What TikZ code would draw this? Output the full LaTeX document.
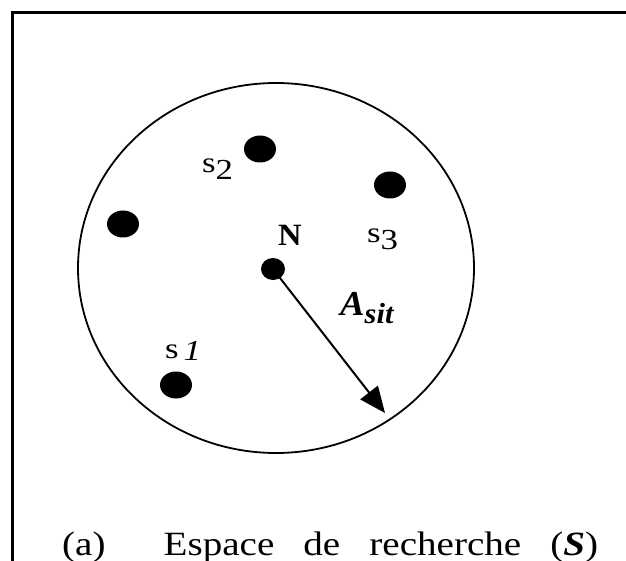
\documentclass[tikz,border=0pt]{standalone}
\usepackage{fontspec}
\setmainfont{Liberation Serif}
\usetikzlibrary{arrows.meta,shapes.geometric}
\newcommand{\widen}[2][1.2]{\scalebox{#1}[1]{#2}}
\begin{document}
\begin{tikzpicture}[x=1pt,y=-1pt,
  frameline/.style={line width=3pt},
  region/.style={line width=1.8pt},
  site/.style={ellipse, fill=black, inner sep=0pt, minimum width=32pt, minimum height=27pt},
  nest/.style={ellipse, fill=black, inner sep=0pt, minimum width=24pt, minimum height=22pt},
  lbl/.style={inner sep=0pt, anchor=base west, font=\fontsize{29}{32}\selectfont},
  radius arrow/.style={line width=2pt, -{Triangle[length=26pt,width=22pt]}}
]
\useasboundingbox (0,0) rectangle (626,561);
\fill[white] (0,0) rectangle (626,561);

% open frame: left and top sides
\draw[frameline] (12.5,561) -- (12.5,12.5) -- (626,12.5);

% search space
\draw[region] (276,268) ellipse [x radius=198, y radius=185];

% solutions and nest
\node[site] (s2) at (260,149) {};
\node[site] (s3) at (390,185) {};
\node[site] (s4) at (123,224) {};
\node[site] (s1) at (176,385) {};
\node[nest] (n) at (273,269) {};

% labels
\node[lbl] (ls2) at (202,173) {\widen{s\raisebox{-6.5pt}{2}}};
\node[lbl] (ls3) at (367,243) {\widen{s\raisebox{-6.5pt}{3}}};
\node[lbl] (ls1) at (165,358) {\widen{s\hspace{4pt}\raisebox{-2pt}{\itshape 1}}};
\node[lbl, font=\fontsize{31}{34}\selectfont\bfseries] (ln) at (278,246) {\widen[1.05]{N}};
\node[lbl] (la) at (340,315) {\bfseries\itshape\widen[1.05]{\fontsize{35}{38}\selectfont A\raisebox{-8pt}{\fontsize{29}{32}\selectfont sit}}};

% radius of the search space
\coordinate (rim) at (385,413);
\draw[radius arrow] (n.center) -- (rim);

% caption
\node[inner sep=0pt, anchor=base west, font=\fontsize{34}{40}\selectfont] (cap) at (62,555)
  {\scalebox{1.15}[1]{\makebox[466pt][s]{(a)\hskip 0pt plus 2fil Espace\hfil de\hfil recherche\hfil(\textbf{\textit{S}})}}};
\end{tikzpicture}
\end{document}
